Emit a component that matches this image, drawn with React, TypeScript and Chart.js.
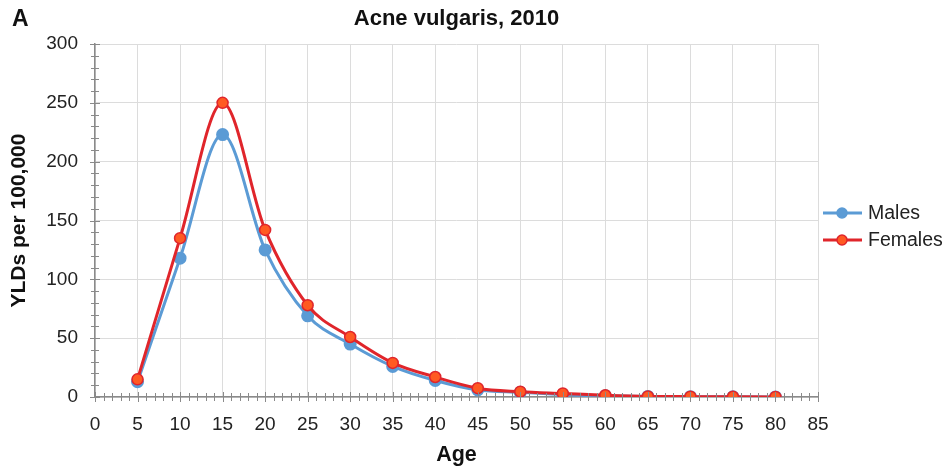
import React, { useEffect, useRef } from "react";
import { Chart, registerables } from "chart.js";

Chart.register(...registerables);

const ages = [5, 10, 15, 20, 25, 30, 35, 40, 45, 50, 55, 60, 65, 70, 75, 80];
const males = [13, 118, 223, 125, 69, 45, 26, 14, 6, 4, 2, 1, 0.5, 0.3, 0.2, 0.1];
const females = [15, 135, 250, 142, 78, 51, 29, 17, 7.5, 4.5, 3, 1.5, 0.5, 0.3, 0.2, 0.1];
const seriesNames = ["Males", "Females"];
const chartTitle = "Acne vulgaris, 2010";
const panelLabel = "A";
const xTitle = "Age";
const yTitle = "YLDs per 100,000";

const FONT = "'Liberation Sans', Arial, sans-serif";
const BLUE = "#5b9bd5";
const RED = "#e0252b";
const ORANGE = "#ff5a22";

const extrasPlugin = {
  id: "extras",
  afterDraw(chart: any) {
    const ctx = chart.ctx;
    const xs = chart.scales.x;
    const ys = chart.scales.y;
    const area = chart.chartArea;
    ctx.save();
    // minor ticks
    ctx.strokeStyle = "#8a8a8a";
    ctx.lineWidth = 1;
    ctx.beginPath();
    for (let v = 0; v <= 85; v += 1) {
      const px = Math.round(xs.getPixelForValue(v)) + 0.5;
      const len = v % 5 === 0 ? 5 : 4;
      ctx.moveTo(px, area.bottom - len);
      ctx.lineTo(px, area.bottom + len);
    }
    for (let v = 0; v <= 300; v += 10) {
      const py = Math.round(ys.getPixelForValue(v)) + 0.5;
      const len = v % 50 === 0 ? 5 : 4;
      ctx.moveTo(area.left - len, py);
      ctx.lineTo(area.left + len, py);
    }
    ctx.stroke();

    // panel label and title
    ctx.fillStyle = "#111";
    ctx.textBaseline = "middle";
    ctx.textAlign = "left";
    ctx.font = `bold 23px ${FONT}`;
    ctx.fillText(panelLabel, 4, 12);
    ctx.textAlign = "center";
    ctx.font = `bold 22px ${FONT}`;
    ctx.fillText(chartTitle, (area.left + area.right) / 2, 11);

    // legend
    const items = [
      { name: seriesNames[0], color: BLUE, fill: BLUE, y: 205 },
      { name: seriesNames[1], color: RED, fill: ORANGE, y: 232 },
    ];
    ctx.textAlign = "left";
    ctx.font = `19.5px ${FONT}`;
    for (const it of items) {
      ctx.strokeStyle = it.color;
      ctx.lineWidth = 3;
      ctx.beginPath();
      ctx.moveTo(815, it.y);
      ctx.lineTo(854, it.y);
      ctx.stroke();
      ctx.beginPath();
      ctx.arc(834, it.y, 5, 0, Math.PI * 2);
      ctx.fillStyle = it.fill;
      ctx.fill();
      ctx.lineWidth = 1.5;
      ctx.strokeStyle = it.color;
      ctx.stroke();
      ctx.fillStyle = "#222";
      ctx.fillText(it.name, 860, it.y + 1);
    }
    ctx.restore();
  },
};

export default function App() {
  const ref = useRef<HTMLCanvasElement | null>(null);
  useEffect(() => {
    if (!ref.current) return;
    const chart = new Chart(ref.current, {
      type: "line",
      data: {
        datasets: [
          {
            label: seriesNames[1],
            data: ages.map((a, i) => ({ x: a, y: females[i] })),
            borderColor: RED,
            backgroundColor: ORANGE,
            pointBackgroundColor: ORANGE,
            pointBorderColor: RED,
            pointBorderWidth: 1.5,
            pointRadius: 5.5,
            borderWidth: 3,
            tension: 0.4,
            cubicInterpolationMode: "monotone",
            order: 0,
          },
          {
            label: seriesNames[0],
            data: ages.map((a, i) => ({ x: a, y: males[i] })),
            borderColor: BLUE,
            backgroundColor: BLUE,
            pointBackgroundColor: BLUE,
            pointBorderColor: BLUE,
            pointRadius: 5,
            borderWidth: 3,
            tension: 0.4,
            cubicInterpolationMode: "monotone",
            order: 1,
          },
        ],
      },
      options: {
        animation: false,
        responsive: true,
        maintainAspectRatio: false,
        layout: { padding: { top: 36, right: 126, left: 0, bottom: 0 } },
        plugins: {
          legend: { display: false },
          tooltip: { enabled: false },
          title: { display: false },
        },
        scales: {
          x: {
            type: "linear",
            min: 0,
            max: 85,
            ticks: {
              stepSize: 5,
              color: "#222",
              font: { family: FONT, size: 19 },
              padding: 16,
              maxRotation: 0,
            },
            grid: { color: "#dcdcdc", lineWidth: 1, drawTicks: false },
            border: { color: "#8a8a8a", width: 1.5 },
            title: {
              display: true,
              text: xTitle,
              color: "#111",
              font: { family: FONT, size: 21.5, weight: "bold", lineHeight: 1.0 },
              padding: { top: 0, bottom: 0 },
            },
            afterFit: (s: any) => {
              s.height = 69;
            },
          },
          y: {
            type: "linear",
            min: 0,
            max: 300,
            ticks: {
              stepSize: 50,
              color: "#222",
              font: { family: FONT, size: 19 },
              padding: 17,
            },
            grid: { color: "#dcdcdc", lineWidth: 1, drawTicks: false },
            border: { color: "#8a8a8a", width: 1.5 },
            title: {
              display: true,
              text: yTitle,
              color: "#111",
              font: { family: FONT, size: 21, weight: "bold", lineHeight: 1.1 },
              padding: { top: 0, bottom: 0 },
            },
            afterFit: (s: any) => {
              s.width = 87;
            },
          },
        },
      } as any,
      plugins: [extrasPlugin],
    });
    return () => chart.destroy();
  }, []);
  return (
    <div style={{ position: "relative", width: 936, height: 458 }}>
      <canvas ref={ref} />
    </div>
  );
}
